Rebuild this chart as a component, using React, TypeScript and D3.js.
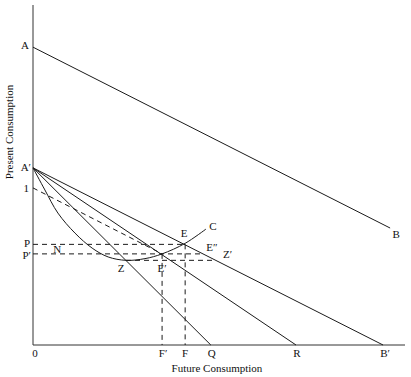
import React from "react";
import * as d3 from "d3";

// ---- data (in chart units: 0..100 on each axis) ----
const pointA = [0, 87.6];
const pointB = [96.0, 34.4];
const pointA1 = [0, 52.1]; // A′
const interceptB1 = 94.1; // B′
const interceptR = 70.7; // R
const interceptQ = 47.8; // Q
const pointOne = [0, 46.2]; // "1"
const pointE = [40.9, 29.6];
const pointE1 = [34.7, 26.8]; // E′
const pointE2 = [45.7, 26.8]; // E″
const pointZ = [25.0, 24.9];
const pointZ1 = [49.1, 24.9]; // Z′

const curveXs = [0, 3.2, 6.7, 11.3, 15.9, 20.2, 25.0, 30.1, 34.7, 40.9, 46.5];
const curveYs = [52.1, 45.6, 38.8, 32.9, 28.5, 25.9, 24.9, 25.4, 26.8, 29.9, 34.1];

const xAxisTitle = "Future Consumption";
const yAxisTitle = "Present Consumption";

export default function App() {
  const W = 411;
  const H = 377;
  const x = d3.scaleLinear().domain([0, 100]).range([33, 405]);
  const y = d3.scaleLinear().domain([0, 100]).range([345, 5]);

  const font = "'Liberation Serif', 'Times New Roman', serif";
  const stroke = "#1a1a1a";
  const dash = "5,4";

  const solidLines: [number[], number[]][] = [
    [pointA, pointB],
    [pointA1, [interceptB1, 0]],
    [pointA1, [interceptR, 0]],
    [pointA1, [interceptQ, 0]],
  ];

  const dashedLines: [number[], number[]][] = [
    [pointOne, pointE1],
    [[0, pointE[1]], pointE],
    [[0, pointE1[1]], pointE2],
    [pointZ, pointZ1],
    [pointE1, [pointE1[0], 0]],
    [pointE, [pointE[0], 0]],
  ];

  const curvePts = curveXs.map((v, i) => [v, curveYs[i]] as [number, number]);
  const curvePath = d3
    .line<[number, number]>()
    .x((d) => x(d[0]))
    .y((d) => y(d[1]))
    .curve(d3.curveCatmullRom.alpha(0.5))(curvePts) as string;

  const lbl = (
    text: string,
    px: number,
    py: number,
    anchor: "start" | "middle" | "end" = "middle",
    key?: string
  ) => (
    <text
      key={key ?? text + px + py}
      x={px}
      y={py}
      textAnchor={anchor}
      fontFamily={font}
      fontSize={11}
      fill="#111"
    >
      {text}
    </text>
  );

  return (
    <svg
      width={W}
      height={H}
      style={{ position: "absolute", left: 0, top: 0, background: "#fff" }}
    >
      {/* axes */}
      <line x1={x(0)} y1={y(0)} x2={x(0)} y2={y(100)} stroke="#333" strokeWidth={1} />
      <line x1={x(0)} y1={y(0)} x2={x(100)} y2={y(0)} stroke="#333" strokeWidth={1} />

      {solidLines.map(([a, b], i) => (
        <line
          key={"s" + i}
          x1={x(a[0])}
          y1={y(a[1])}
          x2={x(b[0])}
          y2={y(b[1])}
          stroke={stroke}
          strokeWidth={1}
        />
      ))}

      {dashedLines.map(([a, b], i) => (
        <line
          key={"d" + i}
          x1={x(a[0])}
          y1={y(a[1])}
          x2={x(b[0])}
          y2={y(b[1])}
          stroke={stroke}
          strokeWidth={1}
          strokeDasharray={dash}
        />
      ))}

      <path d={curvePath} fill="none" stroke={stroke} strokeWidth={1} />

      {/* y-axis point labels */}
      {lbl("A", x(pointA[0]) - 4, y(pointA[1]) + 2, "end")}
      {lbl("A′", x(pointA1[0]) - 2, y(pointA1[1]) + 3, "end")}
      {lbl("1", x(pointOne[0]) - 4, y(pointOne[1]) + 4, "end")}
      {lbl("P", x(0) - 3, y(pointE[1]) + 3, "end")}
      {lbl("P′", x(0) - 2, y(pointE1[1]) + 5, "end")}

      {/* x-axis point labels */}
      {lbl("0", x(0) + 2, y(0) + 12)}
      {lbl("F′", x(pointE1[0]) + 1, y(0) + 12)}
      {lbl("F", x(pointE[0]), y(0) + 12)}
      {lbl("Q", x(interceptQ) + 1, y(0) + 12)}
      {lbl("R", x(interceptR) + 1, y(0) + 12)}
      {lbl("B′", x(interceptB1) + 2, y(0) + 12)}

      {/* in-plot labels */}
      {lbl("B", x(pointB[0]) + 6, y(pointB[1]) + 10)}
      {lbl("E", x(pointE[0]) - 1, y(pointE[1]) - 7)}
      {lbl("C", x(curveXs[curveXs.length - 1]) + 7, y(curveYs[curveYs.length - 1]) + 1)}
      {lbl("E″", x(pointE2[0]) + 9, y(pointE2[1]) - 3)}
      {lbl("Z′", x(pointZ1[0]) + 12, y(pointZ1[1]) - 2)}
      {lbl("Z", x(pointZ[0]) - 5, y(pointZ[1]) + 12)}
      {lbl("E′", x(pointE1[0]), y(pointE1[1]) + 18)}
      {lbl("N", x(6.5), y((pointE[1] + pointE1[1]) / 2) + 4)}

      {/* axis titles */}
      {lbl(xAxisTitle, 217, 372)}
      <text
        x={13}
        y={132}
        transform="rotate(-90 13 132)"
        textAnchor="middle"
        fontFamily={font}
        fontSize={11}
        fill="#111"
      >
        {yAxisTitle}
      </text>
    </svg>
  );
}
